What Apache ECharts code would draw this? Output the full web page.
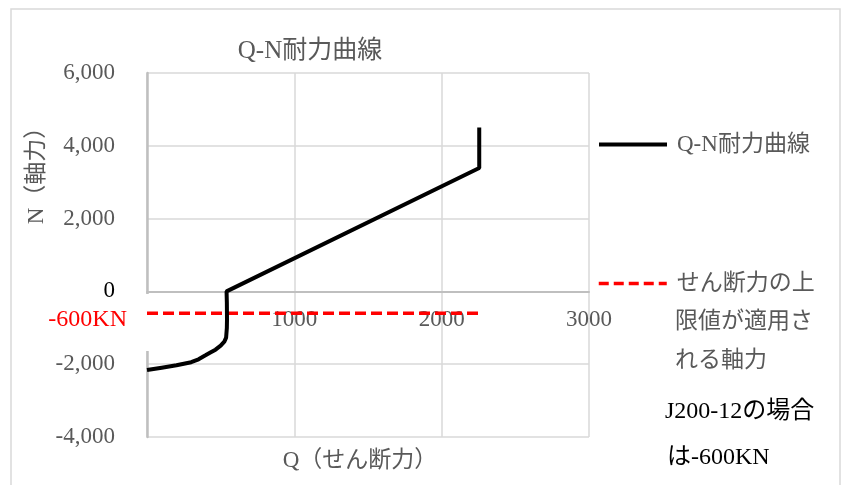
<!DOCTYPE html>
<html>
<head>
<meta charset="utf-8">
<title>Q-N耐力曲線</title>
<script src="https://cdn.jsdelivr.net/npm/echarts@6/dist/echarts.min.js"></script>
<style>
    html, body {margin: 0; padding: 0; background: #fff;}
    #qnChart {width: 847px; height: 485px;}
</style>
</head>
<body>
<div id="qnChart"></div>
<script>
    // Q-N 耐力曲線 (Q: せん断力, N: 軸力)
    var qValues = [0, 100, 200, 300, 350, 400, 430, 465, 500, 525, 537, 542, 543, 542, 540, 2255, 2255]
    var nValues = [-2160, -2095, -2030, -1945, -1865, -1750, -1680, -1600, -1490, -1380, -1270, -1000, -767, -300, 0, 3390, 4500]

    // せん断力の上限値が適用される軸力 (J200-12 → -600KN)
    var limitQ = [0, 2260]
    var limitN = -600

    var xTicks = [0, 1000, 2000, 3000]
    var yTicks = [-4000, -2000, 0, 2000, 4000, 6000]

    var serif = "'Liberation Serif', 'Noto Sans CJK JP', serif"
    var gray = '#595959'

    var curveData = qValues.map(function (q, i) { return [q, nValues[i]] })
    var limitData = limitQ.map(function (q) { return [q, limitN] })

    var gridTop = 73, gridBottom = 48, chartH = 485
    // move the x axis (line + labels) up to N = 0, like Excel does
    var plotH = chartH - gridTop - gridBottom
    var zeroOffset = plotH * (0 - yTicks[0]) / (yTicks[yTicks.length - 1] - yTicks[0])

    var myChart = echarts.init(document.getElementById('qnChart'))
    myChart.setOption({
        animation: false,
        backgroundColor: '#fff',
        title: {
            text: 'Q-N耐力曲線',
            left: 305,
            top: 34,
            textAlign: 'center',
            textStyle: {fontFamily: serif, fontSize: 25, fontWeight: 'normal', color: gray}
        },
        legend: [
            {
                data: ['Q-N耐力曲線'],
                left: 597,
                top: 133,
                padding: 0,
                itemWidth: 68,
                itemHeight: 20,
                itemStyle: {opacity: 0},
                lineStyle: {width: 4, color: '#000'},
                textStyle: {fontFamily: serif, fontSize: 23, color: gray, padding: [0, 0, 0, 5]}
            },
            {
                data: ['せん断力の上限値が適用される軸力'],
                left: 597,
                top: 272,
                padding: 0,
                itemWidth: 68,
                itemHeight: 20,
                itemStyle: {opacity: 0},
                lineStyle: {width: 3.5, color: '#ff0000', type: [10, 5]},
                formatter: function () { return 'せん断力の上' },
                textStyle: {fontFamily: serif, fontSize: 23, color: gray, padding: [0, 0, 0, 5]}
            }
        ],
        grid: {
            left: 147,
            right: 258,
            top: gridTop,
            bottom: gridBottom
        },
        xAxis: {
            type: 'value',
            min: xTicks[0],
            max: xTicks[xTicks.length - 1],
            interval: 1000,
            offset: -zeroOffset,
            axisLine: {onZero: false, lineStyle: {color: '#bfbfbf', width: 2}},
            axisTick: {show: false},
            axisLabel: {
                margin: 17,
                fontFamily: serif,
                fontSize: 23,
                color: gray,
                formatter: function (v) { return v === 0 ? '' : String(v) }
            },
            splitLine: {lineStyle: {color: '#d9d9d9', width: 1.5}}
        },
        yAxis: {
            type: 'value',
            min: yTicks[0],
            max: yTicks[yTicks.length - 1],
            interval: 2000,
            axisLine: {show: true, lineStyle: {color: '#bfbfbf', width: 2.5}},
            axisTick: {show: false},
            axisLabel: {
                margin: 32,
                fontFamily: serif,
                fontSize: 23,
                color: gray,
                formatter: function (v) {
                    if (v === 0) return '{z|0}'
                    return echarts.format.addCommas(v)
                },
                rich: {
                    z: {color: '#000', fontFamily: serif, fontSize: 23}
                }
            },
            splitLine: {lineStyle: {color: '#d9d9d9', width: 1.5}}
        },
        graphic: [
            {
                type: 'rect',
                silent: true,
                z: -10,
                shape: {x: 11, y: 9, width: 829, height: 490},
                style: {fill: null, stroke: '#d9d9d9', lineWidth: 1.5}
            },
            // white text box over the axis line at 0 / -600
            {
                type: 'rect',
                silent: true,
                z: 1,
                shape: {x: 143, y: 294, width: 6, height: 57},
                style: {fill: '#fff'}
            },
            {
                type: 'text',
                x: 127,
                y: 320,
                style: {text: '-600KN', fill: '#ff0000', fontFamily: serif, fontSize: 24, align: 'right', verticalAlign: 'middle'}
            },
            // rest of the second legend label
            {
                type: 'text',
                x: 675,
                y: 322,
                style: {text: '限値が適用さ', fill: gray, fontFamily: serif, fontSize: 23, align: 'left', verticalAlign: 'middle'}
            },
            {
                type: 'text',
                x: 675,
                y: 361,
                style: {text: 'れる軸力', fill: gray, fontFamily: serif, fontSize: 23, align: 'left', verticalAlign: 'middle'}
            },
            {
                type: 'text',
                x: 37,
                y: 170,
                rotation: Math.PI / 2,
                style: {text: 'N（軸力）', fill: gray, fontFamily: serif, fontSize: 23, align: 'center', verticalAlign: 'middle'}
            },
            {
                type: 'text',
                x: 360,
                y: 461,
                style: {text: 'Q（せん断力）', fill: gray, fontFamily: serif, fontSize: 23, align: 'center', verticalAlign: 'middle'}
            },
            {
                type: 'text',
                x: 665,
                y: 412,
                style: {text: 'J200-12の場合', fill: '#000', fontFamily: serif, fontSize: 24, align: 'left', verticalAlign: 'middle'}
            },
            {
                type: 'text',
                x: 667,
                y: 458,
                style: {text: 'は-600KN', fill: '#000', fontFamily: serif, fontSize: 24, align: 'left', verticalAlign: 'middle'}
            }
        ],
        series: [
            {
                name: 'Q-N耐力曲線',
                type: 'line',
                symbol: 'none',
                z: 3,
                lineStyle: {color: '#000', width: 4},
                itemStyle: {color: '#000'},
                data: curveData
            },
            {
                name: 'せん断力の上限値が適用される軸力',
                type: 'line',
                symbol: 'none',
                z: 2,
                lineStyle: {color: '#ff0000', width: 3.5, type: [11, 5]},
                itemStyle: {color: '#ff0000'},
                data: limitData
            }
        ]
    })
</script>
</body>
</html>
